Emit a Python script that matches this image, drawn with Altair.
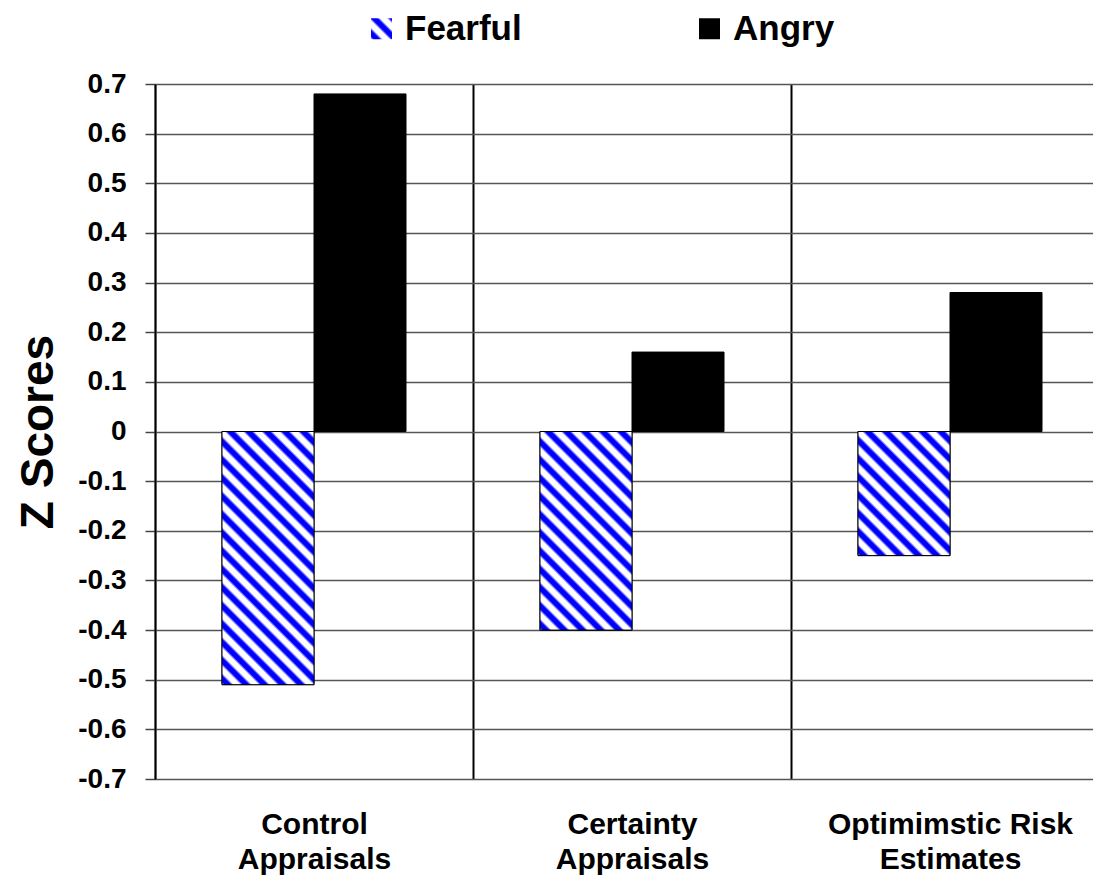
import math
import json
import altair as alt
import pandas as pd

# ---- data ----
categories = ["Control Appraisals", "Certainty Appraisals", "Optimimstic Risk Estimates"]
category_lines = [["Control", "Appraisals"], ["Certainty", "Appraisals"], ["Optimimstic Risk", "Estimates"]]
series = ["Fearful", "Angry"]
fearful_values = [-0.51, -0.40, -0.25]
angry_values = [0.68, 0.16, 0.28]
y_tick_values = [-0.7, -0.6, -0.5, -0.4, -0.3, -0.2, -0.1, 0.0, 0.1, 0.2, 0.3, 0.4, 0.5, 0.6, 0.7]

rows = []
for cat, f, a in zip(categories, fearful_values, angry_values):
    rows.append({"Category": cat, "Emotion": "Fearful", "Z": f})
    rows.append({"Category": cat, "Emotion": "Angry", "Z": a})
df = pd.DataFrame(rows)

# ---- layout / style ----
FONT = "Liberation Sans"
PLOT_W = 954
PLOT_H = 695
Y_MIN, Y_MAX = -0.7, 0.7
STEP = PLOT_W / len(categories)
BAR_W = 92.0
OFFSET_PAD = (STEP / BAR_W - 2) / 2
PX_PER_UNIT = PLOT_H / (Y_MAX - Y_MIN)
BLUE = "#0000FF"
WHITE = "#FFFFFF"
PERIOD = 12.9
PATTERN = [(0.0, WHITE), (0.18, BLUE), (0.48, BLUE), (0.66, WHITE)]


def stripe_stops(n):
    stops = []
    k = 0
    while k < n:
        for off, col in PATTERN:
            o = (k + off) / n
            if o <= 1:
                stops.append((round(o, 5), col))
        k += 1
    return stops


def bar_gradient(w, h):
    r = h / w
    s = (1 + r) / (1 + r * r)
    n = (w + h) / math.sqrt(2) / PERIOD
    return alt.LinearGradient(
        gradient="linear",
        stops=[alt.GradientStop(offset=o, color=c) for o, c in stripe_stops(n)],
        x1=0, y1=1, x2=round(s, 5), y2=round(1 - s * r, 5),
    )


legend_stops = stripe_stops(2.3)
legend_grad_expr = (
    "{gradient:'linear',x1:0,y1:1,x2:1,y2:0,stops:["
    + ",".join("{offset:%s,color:'%s'}" % (o, c) for o, c in legend_stops)
    + "]}"
)

label_expr = " : ".join(
    "datum.value == %s ? %s" % (json.dumps(c), json.dumps(lines))
    for c, lines in zip(categories, category_lines)
) + " : datum.label"

x_enc = alt.X(
    "Category:N",
    sort=categories,
    scale=alt.Scale(domain=categories, paddingInner=0, paddingOuter=0),
    axis=alt.Axis(
        title=None, labelAngle=0, labelExpr=label_expr, labelLimit=500,
        labelFont=FONT, labelFontSize=30, labelFontWeight="bold", labelColor="black",
        labelLineHeight=35, labelBaseline="top", labelPadding=30,
        ticks=False, tickSize=0, domain=False,
        grid=True, tickBand="extent", gridColor="black", gridWidth=2,
    ),
)
xoff_enc = alt.XOffset(
    "Emotion:N", sort=series,
    scale=alt.Scale(domain=series, paddingInner=0, paddingOuter=OFFSET_PAD),
)
y_enc = alt.Y(
    "Z:Q",
    scale=alt.Scale(domain=[Y_MIN, Y_MAX], nice=False, zero=False),
    axis=alt.Axis(
        values=y_tick_values,
        labelExpr="toString(round(datum.value*10)/10)",
        labelFont=FONT, labelFontSize=28, labelFontWeight="bold", labelColor="black",
        labelPadding=19, tickSize=10, tickColor="#444", tickWidth=1.5,
        domainColor="black", domainWidth=1.5,
        grid=True, gridColor="#555", gridWidth=1.5,
        title="Z Scores", titleFont=FONT, titleFontSize=46, titleFontWeight="bold",
        titleColor="black", titleAngle=270, titleAlign="center", titleBaseline="middle",
        titleX=-117, titleY=PLOT_H / 2,
    ),
)

base = alt.Chart(df).mark_bar(stroke="black", strokeWidth=1).encode(
    x=x_enc,
    xOffset=xoff_enc,
    y=y_enc,
    color=alt.Color(
        "Emotion:N",
        sort=series,
        scale=alt.Scale(domain=series, range=[alt.ExprRef(expr=legend_grad_expr), "black"]),
        legend=alt.Legend(
            title=None, orient="none", legendX=209, legendY=-73, direction="horizontal",
            labelFont=FONT, labelFontSize=35, labelFontWeight="bold", labelColor="black",
            labelLimit=300,
            symbolType="square", symbolSize=441, symbolStrokeWidth=0, symbolOpacity=1,
            labelOffset=6, columnPadding=170,
        ),
    ),
)

overlays = []
for cat, f in zip(categories, fearful_values):
    grad = bar_gradient(BAR_W, abs(f) * PX_PER_UNIT)
    overlays.append(
        alt.Chart(df)
        .transform_filter((alt.datum.Category == cat) & (alt.datum.Emotion == "Fearful"))
        .mark_bar(fill=grad, stroke="black", strokeWidth=1)
        .encode(x=x_enc, xOffset=xoff_enc, y=y_enc)
    )

chart = (
    alt.layer(base, *overlays)
    .properties(
        width=PLOT_W,
        height=PLOT_H,
        autosize=alt.AutoSizeParams(type="none"),
        padding={"left": 147, "top": 76, "right": -16, "bottom": 99},
        background="white",
    )
    .configure_view(stroke=None)
    .configure(font=FONT)
)

chart.save("out.html", embed_options={"renderer": "svg", "actions": False})
